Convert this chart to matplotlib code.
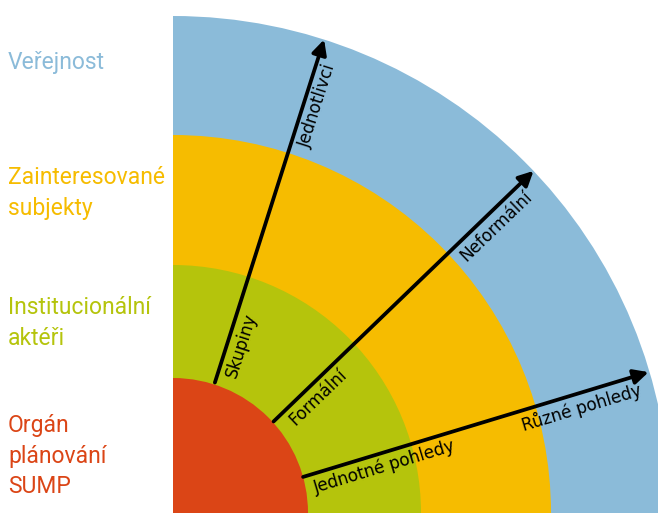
import numpy as np
import matplotlib.pyplot as plt
from matplotlib.patches import Wedge

# rings from outside in: radius (px), colour, label lines, label y (px from top)
ring_names = ["Veřejnost", "Zainteresované\nsubjekty", "Institucionální\naktéři", "Orgán\nplánování\nSUMP"]
ring_radii = [497, 378, 248, 135]
ring_colors = ["#8bbbd9", "#f6bc00", "#b5c40c", "#db4516"]
label_y = [62, 193, 323, 456]

# arrows: (start radius, start angle, end radius, end angle)
arrows = [(137, 72.2, 497, 72.3), (136, 42.3, 497, 43.5), (135, 15.5, 496, 16.5)]
inner_labels = ["Skupiny", "Formální", "Jednotné pohledy"]
outer_labels = ["Jednotlivci", "Neformální", "Různé pohledy"]
inner_r = [180, 185, 216]
outer_r = [432, 432, 422]

W, H = 658, 513
cx, cy = 173, 0

fig = plt.figure(figsize=(W / 100, H / 100), dpi=100)
ax = fig.add_axes([0, 0, 1, 1])
ax.set_xlim(0, W)
ax.set_ylim(0, H)
ax.set_aspect('equal')
ax.axis('off')

for r, c in zip(ring_radii, ring_colors):
    ax.add_patch(Wedge((cx, cy), r, 0, 90, facecolor=c, edgecolor='none'))

for name, c, y in zip(ring_names, ring_colors, label_y):
    ax.text(8, H - y, name, color=c, fontsize=16.5, family='Roboto',
            ha='left', va='center', linespacing=1.42)


def pol(r, a):
    t = np.radians(a)
    return cx + r * np.cos(t), cy + r * np.sin(t)


for (r0, a0, r1, a1), lab_in, lab_out, ri, ro in zip(arrows, inner_labels, outer_labels, inner_r, outer_r):
    p0 = np.array(pol(r0, a0))
    p1 = np.array(pol(r1, a1))
    ax.annotate('', xy=p1, xytext=p0,
                arrowprops=dict(arrowstyle='-|>', lw=2.7, color='black',
                                mutation_scale=22, shrinkA=0, shrinkB=0))
    d = (p1 - p0) / np.linalg.norm(p1 - p0)
    ang = np.degrees(np.arctan2(d[1], d[0]))
    perp = np.array([d[1], -d[0]])
    for lab, rr in [(lab_in, ri), (lab_out, ro)]:
        t = (rr - r0) / (r1 - r0)
        p = p0 + t * (p1 - p0) + perp * 5
        ax.text(p[0], p[1], lab, rotation=ang, rotation_mode='anchor',
                ha='center', va='top', fontsize=12.2, family='DejaVu Sans')

fig.savefig('out.png', dpi=100)
